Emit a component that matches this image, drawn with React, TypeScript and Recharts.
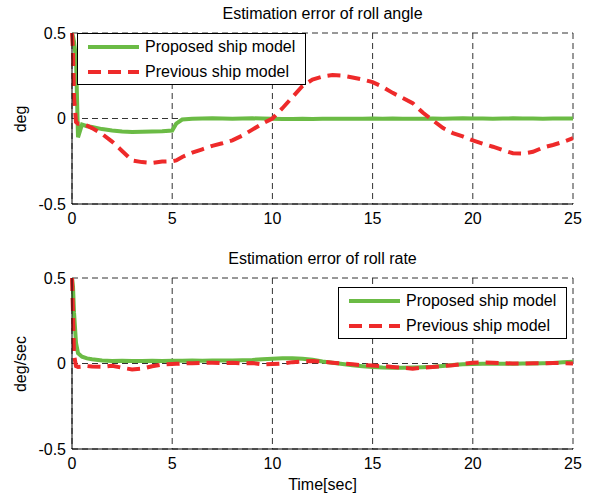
import { CartesianGrid, Legend, Line, LineChart, XAxis, YAxis } from "recharts";

const FONT = '"Liberation Sans", Arial, Helvetica, sans-serif';
const GREEN = "#6bbb45";
const RED = "#ee2a2a";

// sample times [sec]; denser near the start to keep the initial transient sharp
const time = [
  0, 0.05, 0.1, 0.2, 0.3, 0.5, 0.75, 1,
  1.5, 2, 2.5, 3, 3.5, 4, 4.5, 5, 5.2,
  5.5, 6, 6.5, 7, 7.5, 8, 8.5, 9, 9.5, 10,
  10.5, 11, 11.5, 12, 12.5, 13, 13.5, 14, 14.5, 15,
  15.5, 16, 16.5, 17, 17.5, 18, 18.5, 19, 19.5, 20,
  20.5, 21, 21.5, 22, 22.5, 23, 23.5, 24, 24.5, 25,
];

// roll angle estimation error [deg]
const rollAngleProposed = [
  0.5, 0.48, 0.45, 0.35, -0.11, -0.035, -0.045, -0.05,
  -0.062, -0.07, -0.076, -0.079, -0.077, -0.076, -0.074, -0.07, -0.03,
  -0.006, -0.002, 0, 0.001, 0, -0.001, 0, 0.001, 0, -0.001,
  -0.003, -0.003, -0.002, -0.003, -0.002, -0.002, -0.001, -0.002, -0.001, 0,
  -0.001, 0, -0.001, -0.002, -0.001, 0, -0.001, 0, 0.001, 0,
  0, -0.001, 0, 0.001, 0, 0, -0.001, 0, 0, 0,
];
const rollAnglePrevious = [
  0.5, 0.4, 0.12, -0.02, -0.03, -0.03, -0.042, -0.056,
  -0.09, -0.135, -0.19, -0.245, -0.255, -0.26, -0.252, -0.25, -0.245,
  -0.225, -0.2, -0.18, -0.16, -0.145, -0.128, -0.1, -0.065, -0.03, 0,
  0.06, 0.125, 0.19, 0.228, 0.245, 0.254, 0.25, 0.24, 0.228, 0.213,
  0.185, 0.15, 0.12, 0.09, 0.035, -0.01, -0.055, -0.085, -0.105, -0.128,
  -0.148, -0.165, -0.185, -0.203, -0.205, -0.195, -0.17, -0.155, -0.137, -0.115,
];

// roll rate estimation error [deg/sec]
const rollRateProposed = [
  0.5, 0.45, 0.3, 0.12, 0.06, 0.04, 0.03, 0.025,
  0.018, 0.015, 0.016, 0.015, 0.015, 0.016, 0.015, 0.016, 0.016,
  0.016, 0.017, 0.016, 0.017, 0.018, 0.018, 0.019, 0.021, 0.025, 0.028,
  0.03, 0.03, 0.028, 0.022, 0.012, 0.005, -0.003, -0.01, -0.016, -0.021,
  -0.024, -0.025, -0.025, -0.024, -0.022, -0.019, -0.014, -0.009, -0.005, -0.003,
  -0.002, -0.002, -0.001, -0.001, 0, 0, 0.001, 0.003, 0.007, 0.01,
];
const rollRatePrevious = [
  0.5, 0.3, 0.05, -0.015, -0.02, -0.018, -0.015, -0.018,
  -0.02, -0.013, -0.025, -0.035, -0.03, -0.016, -0.006, -0.003, -0.002,
  0, 0.002, 0.003, 0.005, 0.002, 0.005, 0, 0.003, -0.005, -0.003,
  0, 0.008, 0.012, 0.015, 0.01, 0.005, 0, -0.005, -0.01, -0.012,
  -0.015, -0.02, -0.025, -0.03, -0.025, -0.02, -0.015, -0.01, -0.002, 0.004,
  0.007, 0.005, 0.002, 0, 0, 0.002, 0, 0.003, 0.002, 0,
];

const timeTicks = [0, 5, 10, 15, 20, 25];
const errorTicks = [-0.5, 0, 0.5];

const angleRows = time.map((t, i) => ({ t, proposed: rollAngleProposed[i], previous: rollAnglePrevious[i] }));
const rateRows = time.map((t, i) => ({ t, proposed: rollRateProposed[i], previous: rollRatePrevious[i] }));

const tickStyle = { fill: "#000", fontSize: 16, fontFamily: FONT };

function ModelLegend() {
  const row = { display: "flex", alignItems: "center", height: 25 };
  const label = { marginLeft: 6, fontSize: 16, lineHeight: "16px", color: "#000", whiteSpace: "nowrap" as const };
  return (
    <div
      style={{
        width: 229,
        height: 52,
        boxSizing: "border-box",
        border: "1px solid #000",
        background: "#fff",
        paddingLeft: 10,
        fontFamily: FONT,
      }}
    >
      <div style={row}>
        <svg width={51} height={6}>
          <line x1={0} x2={51} y1={3} y2={3} stroke={GREEN} strokeWidth={4} />
        </svg>
        <span style={label}>Proposed ship model</span>
      </div>
      <div style={row}>
        <svg width={51} height={6}>
          <line x1={0} x2={51} y1={3} y2={3} stroke={RED} strokeWidth={4} strokeDasharray="13 7" />
        </svg>
        <span style={label}>Previous ship model</span>
      </div>
    </div>
  );
}

function ErrorPlot({
  rows,
  height,
  margin,
  legendPos,
}: {
  rows: { t: number; proposed: number; previous: number }[];
  height: number;
  margin: { top: number; right: number; bottom: number; left: number };
  legendPos: { left: number; top: number };
}) {
  return (
    <LineChart width={594} height={height} data={rows} margin={margin}>
      <CartesianGrid stroke="#333" strokeDasharray="6 4" />
      <XAxis
        dataKey="t"
        type="number"
        domain={[0, 25]}
        ticks={timeTicks}
        height={30}
        tickLine={false}
        tickSize={6}
        tickMargin={3}
        axisLine={{ stroke: "#000" }}
        tick={tickStyle}
      />
      <YAxis
        type="number"
        domain={[-0.5, 0.5]}
        ticks={errorTicks}
        width={40}
        tickLine={false}
        tickSize={6}
        tickMargin={0}
        axisLine={{ stroke: "#000" }}
        tick={tickStyle}
        tickFormatter={(v) => String(v)}
      />
      <Line dataKey="proposed" type="linear" stroke={GREEN} strokeWidth={4} dot={false} activeDot={false} isAnimationActive={false} />
      <Line
        dataKey="previous"
        type="linear"
        stroke={RED}
        strokeWidth={4}
        strokeDasharray="13 7"
        dot={false}
        activeDot={false}
        isAnimationActive={false}
      />
      <Legend
        layout="vertical"
        align="center"
        verticalAlign="middle"
        content={() => <ModelLegend />}
        wrapperStyle={{ left: legendPos.left, top: legendPos.top, width: 229 }}
      />
    </LineChart>
  );
}

const textStyle = {
  position: "absolute" as const,
  fontFamily: FONT,
  fontSize: 16,
  lineHeight: "16px",
  color: "#000",
  whiteSpace: "nowrap" as const,
};

export default function App() {
  return (
    <div style={{ position: "absolute", left: 0, top: 0, width: 594, height: 497, background: "#fff", overflow: "hidden" }}>
      <div style={{ position: "absolute", left: 0, top: 0 }}>
        <ErrorPlot rows={angleRows} height={240} margin={{ top: 33, right: 21, bottom: 6, left: 32 }} legendPos={{ left: 77, top: 33 }} />
      </div>
      <div style={{ position: "absolute", left: 0, top: 240 }}>
        <ErrorPlot rows={rateRows} height={257} margin={{ top: 38, right: 21, bottom: 18, left: 32 }} legendPos={{ left: 338, top: 47 }} />
      </div>

      <div style={{ ...textStyle, left: 72, width: 501, top: 6, textAlign: "center" }}>Estimation error of roll angle</div>
      <div style={{ ...textStyle, left: 72, width: 501, top: 251, textAlign: "center" }}>Estimation error of roll rate</div>
      <div style={{ ...textStyle, left: 72, width: 501, top: 477, textAlign: "center" }}>Time[sec]</div>
      <div style={{ ...textStyle, left: 21, top: 118.5, transform: "translate(-50%, -50%) rotate(-90deg)" }}>deg</div>
      <div style={{ ...textStyle, left: 21, top: 363.5, transform: "translate(-50%, -50%) rotate(-90deg)" }}>deg/sec</div>
    </div>
  );
}
